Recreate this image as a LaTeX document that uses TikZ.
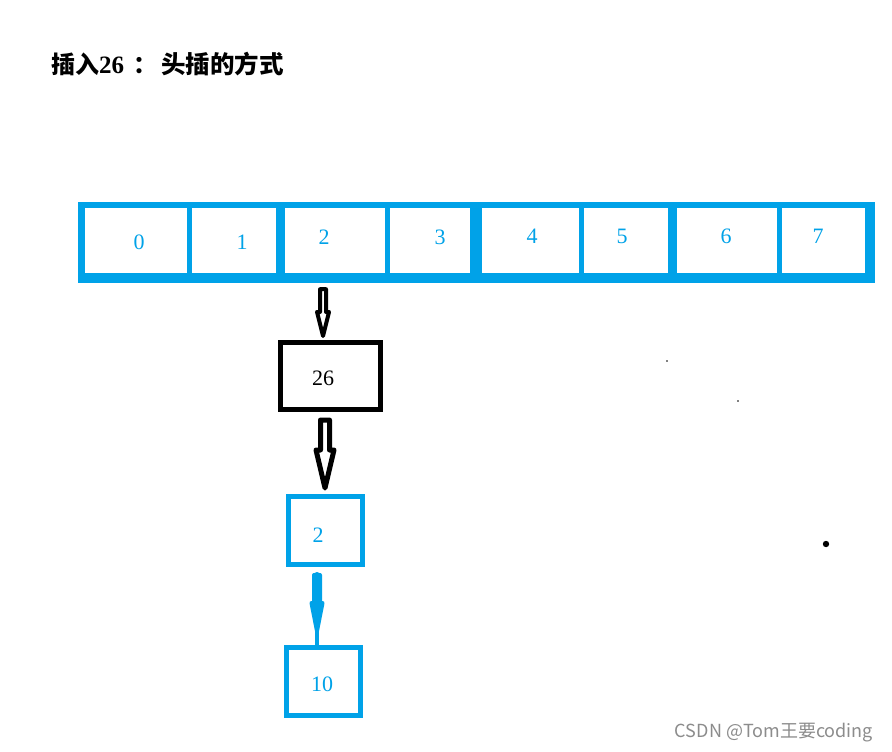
\documentclass[tikz,border=0pt]{standalone}
\usepackage{fontspec}
\newfontfamily\cjk{Noto Sans CJK SC}
\newfontfamily\dig{Liberation Serif}
\usetikzlibrary{calc}
\definecolor{pblue}{RGB}{0,162,232}
\newcommand\hollowarrow[6]{%
  \draw[#1] ($(#2)+(-#4,0)$) -- ($(#3)+(-#4,-#6)$) -- ($(#3)+(-#5,-#6)$) -- (#3)
    -- ($(#3)+(#5,-#6)$) -- ($(#3)+(#4,-#6)$) -- ($(#2)+(#4,0)$) -- cycle;}
\begin{document}
\begin{tikzpicture}[x=1pt,y=-1pt,
  digits/.style={font=\dig\fontsize{22}{26}\selectfont},
  cell/.style={fill=white,inner sep=0,minimum height=65},
  lab/.style={digits,text=pblue,inner sep=0},
  box/.style={draw,line width=5pt,inner sep=0,fill=white,minimum width=74,minimum height=68},
  harrow/.style={line width=4pt,line join=round,fill=white}]
\useasboundingbox (0,0) rectangle (892,752);
\fill[white] (0,0) rectangle (892,752);

\node[anchor=west,inner sep=0] (title) at (51,64)
  {{\cjk\bfseries\fontsize{24}{26}\selectfont 插入}{\dig\bfseries\fontsize{25}{26}\selectfont 26}\hspace{9pt}{\cjk\bfseries\fontsize{24}{26}\selectfont ：}\hspace{4pt}{\cjk\bfseries\fontsize{24.5}{26}\selectfont 头插的方式}};

\node[fill=pblue,minimum width=797,minimum height=81,inner sep=0] (arr) at (476.5,242.5) {};
\node[cell,minimum width=102,label={[lab,xshift=3pt,yshift=-1.5pt]center:0}] (c0) at (136,240.5) {};
\node[cell,minimum width=84,label={[lab,xshift=8pt,yshift=-1.5pt]center:1}] (c1) at (234,240.5) {};
\node[cell,minimum width=100,label={[lab,xshift=-11pt,yshift=3.5pt]center:2}] (c2) at (335,240.5) {};
\node[cell,minimum width=80,label={[lab,xshift=10pt,yshift=3.5pt]center:3}] (c3) at (430,240.5) {};
\node[cell,minimum width=97,label={[lab,xshift=1.5pt,yshift=3.5pt]center:4}] (c4) at (530.5,240) {};
\node[cell,minimum width=84,label={[lab,xshift=-4pt,yshift=3.5pt]center:5}] (c5) at (626,240) {};
\node[cell,minimum width=100,label={[lab,xshift=-1pt,yshift=3.5pt]center:6}] (c6) at (727,240) {};
\node[cell,minimum width=83,label={[lab,xshift=-5.5pt,yshift=3.5pt]center:7}] (c7) at (823.5,240) {};

\node[box,draw=black,minimum width=100,minimum height=67,
  label={[digits,inner sep=0,xshift=-7.5pt,yshift=-2pt]center:26}] (b26) at (330.5,376) {};
\node[box,draw=pblue,label={[lab,xshift=-7.5pt,yshift=-4.5pt]center:2}] (b2) at (325.5,530.5) {};
\node[box,draw=pblue,label={[lab,xshift=-1.5pt,yshift=-2.5pt]center:10}] (b10) at (323.5,681.5) {};

\coordinate (a1s) at ($(c2.south)+(-12,16)$);
\coordinate (a1e) at ($(b26.north)+(-7.5,-4)$);
\hollowarrow{harrow,draw=black}{a1s}{a1e}{3}{6}{24}
\coordinate (a2s) at ($(b26.south)+(-5.5,8)$);
\coordinate (a2e) at ($(b2.north)+(-0.5,-6)$);
\hollowarrow{harrow,draw=black,line width=5pt}{a2s}{a2e}{4.5}{9}{38}
\coordinate (a3s) at ($(b2.south)+(-8.5,8)$);
\coordinate (a3e) at ($(b10.north)+(-6.5,-14)$);
\coordinate (a3f) at ($(b10.north)+(-6.5,0)$);
\draw[pblue,line width=10pt,line cap=round] ($(a3s)+(0,2)$) -- ($(a3e)+(0,-30)$);
\hollowarrow{harrow,draw=pblue,fill=pblue}{a3s}{a3e}{3}{5.5}{28}
\draw[pblue,line width=4pt] (a3e) -- (a3f);

\fill (667,361) circle (0.8);
\fill (738,401) circle (0.8);
\fill (826,544) circle (3.2);

\node[text=black!45,inner sep=0,font=\cjk\fontsize{18}{20}\selectfont] (wm) at (774,733) {CSDN @Tom王要coding};
\end{tikzpicture}
\end{document}
